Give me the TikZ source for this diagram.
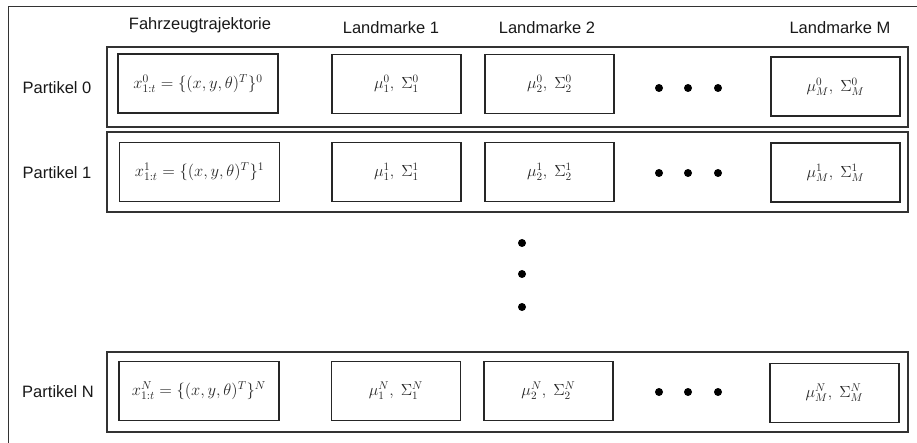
\documentclass[tikz,border=0pt]{standalone}
\usepackage{graphicx}
\usepackage{fontspec}
\setmainfont{Liberation Sans}
% math inside the cells, slightly enlarged
\newcommand\cellmath[2]{\scalebox{#1}{$#2$}}
\begin{document}
\begin{tikzpicture}[x=1pt,y=-1pt,
  frame/.style={draw=black!80,line width=1pt},
  rowbox/.style={draw=black!80,line width=1.4pt,minimum width=801pt,minimum height=80pt,inner sep=0pt},
  cell/.style={draw=black!85,line width=1.3pt,minimum height=59pt,inner sep=0pt,
    text=black!85,font=\fontsize{14.4}{17}\selectfont},
  trajcell/.style={cell,minimum width=160pt},
  lmcell/.style={cell,minimum width=129pt},
  head/.style={font=\fontsize{16.5}{20}\selectfont,text=black!90},
  rowlabel/.style={font=\fontsize{16.5}{20}\selectfont,text=black!90},
  dot/.style={circle,fill=black,inner sep=0pt,minimum size=8pt}]
\useasboundingbox (0,0) rectangle (917,443);
\fill[white] (0,0) rectangle (917,443);

% outer frame (open to the right and bottom)
\coordinate (fTR) at (917,7);
\coordinate (fTL) at (8,7);
\coordinate (fBL) at (8,443);
\draw[frame] (fTR) -- (fTL) -- (fBL);

% column headings
\node[head] (hTraj) at (200,25) {Fahrzeugtrajektorie};
\node[head] (hL1) at (391,28) {Landmarke 1};
\node[head] (hL2) at (547,28) {Landmarke 2};
\node[head] (hLM) at (840,28) {Landmarke M};

% particle rows
\node[rowbox] (row0) at (507.5,87) {};
\node[rowbox] (row1) at (507.5,172) {};
\node[rowbox] (rowN) at (507.5,392) {};

\node[rowlabel] (p0) at (57,88) {Partikel 0};
\node[rowlabel] (p1) at (57,173) {Partikel 1};
\node[rowlabel] (pN) at (58,392) {Partikel N};

% particle 0
\node[trajcell] (t0) at (198,83.5) {\cellmath{1.15}{x^{0}_{1:t} = \{(x,y,\theta)^{T}\}^{0}}};
\node[lmcell] (a0) at (396.5,84) {\cellmath{1.12}{\mu^{0}_{1},\ \Sigma^{0}_{1}}};
\node[lmcell] (b0) at (549.5,84) {\cellmath{1.12}{\mu^{0}_{2},\ \Sigma^{0}_{2}}};
\node[lmcell] (m0) at (835.5,86.5) {\cellmath{1.12}{\mu^{0}_{M},\ \Sigma^{0}_{M}}};
\node[dot] (d0a) at (659,88) {};
\node[dot] (d0b) at (688,88) {};
\node[dot] (d0c) at (718,88) {};

% particle 1
\node[trajcell] (t1) at (199.5,172) {\cellmath{1.15}{x^{1}_{1:t} = \{(x,y,\theta)^{T}\}^{1}}};
\node[lmcell] (a1) at (396.5,172) {\cellmath{1.12}{\mu^{1}_{1},\ \Sigma^{1}_{1}}};
\node[lmcell] (b1) at (549.5,172) {\cellmath{1.12}{\mu^{1}_{2},\ \Sigma^{1}_{2}}};
\node[lmcell] (m1) at (835.5,172.5) {\cellmath{1.12}{\mu^{1}_{M},\ \Sigma^{1}_{M}}};
\node[dot] (d1a) at (659,173) {};
\node[dot] (d1b) at (688,173) {};
\node[dot] (d1c) at (718,173) {};

% vertical ellipsis between the rows
\node[dot] (va) at (522,243) {};
\node[dot] (vb) at (522,274) {};
\node[dot] (vc) at (522,307) {};

% particle N
\node[trajcell] (tN) at (199,391) {\cellmath{1.15}{x^{N}_{1:t} = \{(x,y,\theta)^{T}\}^{N}}};
\node[lmcell] (aN) at (396,391) {\cellmath{1.12}{\mu^{N}_{1},\ \Sigma^{N}_{1}}};
\node[lmcell] (bN) at (548.5,391) {\cellmath{1.12}{\mu^{N}_{2},\ \Sigma^{N}_{2}}};
\node[lmcell] (mN) at (834.5,393) {\cellmath{1.12}{\mu^{N}_{M},\ \Sigma^{N}_{M}}};
\node[dot] (dNa) at (659,392) {};
\node[dot] (dNb) at (688,392) {};
\node[dot] (dNc) at (718,392) {};
\end{tikzpicture}
\end{document}
